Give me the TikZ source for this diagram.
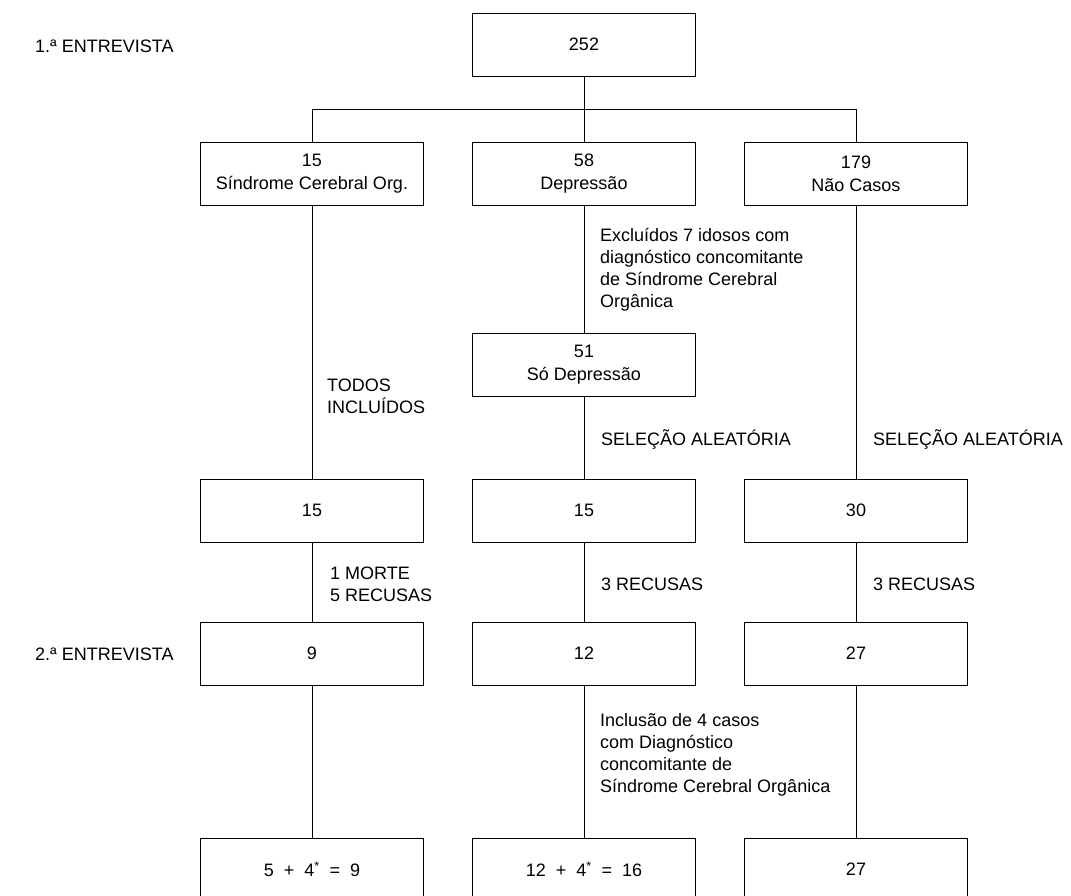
\documentclass[tikz,border=0pt]{standalone}
\usepackage{fontspec}
\setmainfont{Liberation Sans}
\begin{document}
\begin{tikzpicture}[x=1pt,y=-1pt,
  box/.style={draw,line width=1pt,minimum width=223pt,minimum height=63pt,inner sep=0pt,align=center,
    font=\fontsize{18}{23}\selectfont},
  lbl/.style={inner sep=0pt,align=left,font=\fontsize{18}{22}\selectfont},
  conn/.style={line width=1pt}]
\useasboundingbox (0,0) rectangle (1071,895);
\clip (0,0) rectangle (1071,895);
% stage labels
\node[lbl,anchor=west] (e1) at (35,46) {1.ª ENTREVISTA};
\node[lbl,anchor=west] (e2) at (35,654) {2.ª ENTREVISTA};
% boxes
\node[box] (n252) at (584,44.5) {252};
\node[box] (a2) at (312,173.5) {15\\Síndrome Cerebral Org.};
\node[box] (b2) at (584,173.5) {58\\Depressão};
\node[box] (c2) at (856,173.5) {179\\Não Casos};
\node[box] (b3) at (584,364.5) {51\\Só Depressão};
\node[box] (a4) at (312,510.5) {15};
\node[box] (b4) at (584,510.5) {15};
\node[box] (c4) at (856,510.5) {30};
\node[box] (a5) at (312,653.5) {9};
\node[box] (b5) at (584,653.5) {12};
\node[box] (c5) at (856,653.5) {27};
\node[box] (a6) at (312,869.5) {5 \ + \ 4\textsuperscript{*} \ = \ 9};
\node[box] (b6) at (584,869.5) {12 \ + \ 4\textsuperscript{*} \ = \ 16};
\node[box] (c6) at (856,869.5) {27};
% connectors
\coordinate (hb) at (584,109);
\draw[conn] (n252) -- (hb);
\draw[conn] (a2.north) -- (a2.north |- hb) -- (c2.north |- hb) -- (c2.north);
\draw[conn] (hb) -- (b2);
\draw[conn] (a2) -- (a4);
\draw[conn] (a4) -- (a5);
\draw[conn] (a5) -- (a6);
\draw[conn] (b2) -- (b3);
\draw[conn] (b3) -- (b4);
\draw[conn] (b4) -- (b5);
\draw[conn] (b5) -- (b6);
\draw[conn] (c2) -- (c4);
\draw[conn] (c4) -- (c5);
\draw[conn] (c5) -- (c6);
% connector labels
\node[lbl,anchor=north west] (lx) at (600,228) {Excluídos 7 idosos com\\diagnóstico concomitante\\de Síndrome Cerebral\\Orgânica};
\node[lbl,anchor=north west] (lt) at (327,379) {TODOS\\INCLUÍDOS};
\node[lbl,anchor=west] (ls1) at (601,439) {SELEÇÃO ALEATÓRIA};
\node[lbl,anchor=west] (ls2) at (873,439) {SELEÇÃO ALEATÓRIA};
\node[lbl,anchor=north west] (lm) at (330,567) {1 MORTE\\5 RECUSAS};
\node[lbl,anchor=west] (lr1) at (601,584) {3 RECUSAS};
\node[lbl,anchor=west] (lr2) at (873,584) {3 RECUSAS};
\node[lbl,anchor=north west] (li) at (600,713) {Inclusão de 4 casos\\com Diagnóstico\\concomitante de\\Síndrome Cerebral Orgânica};
\end{tikzpicture}
\end{document}
